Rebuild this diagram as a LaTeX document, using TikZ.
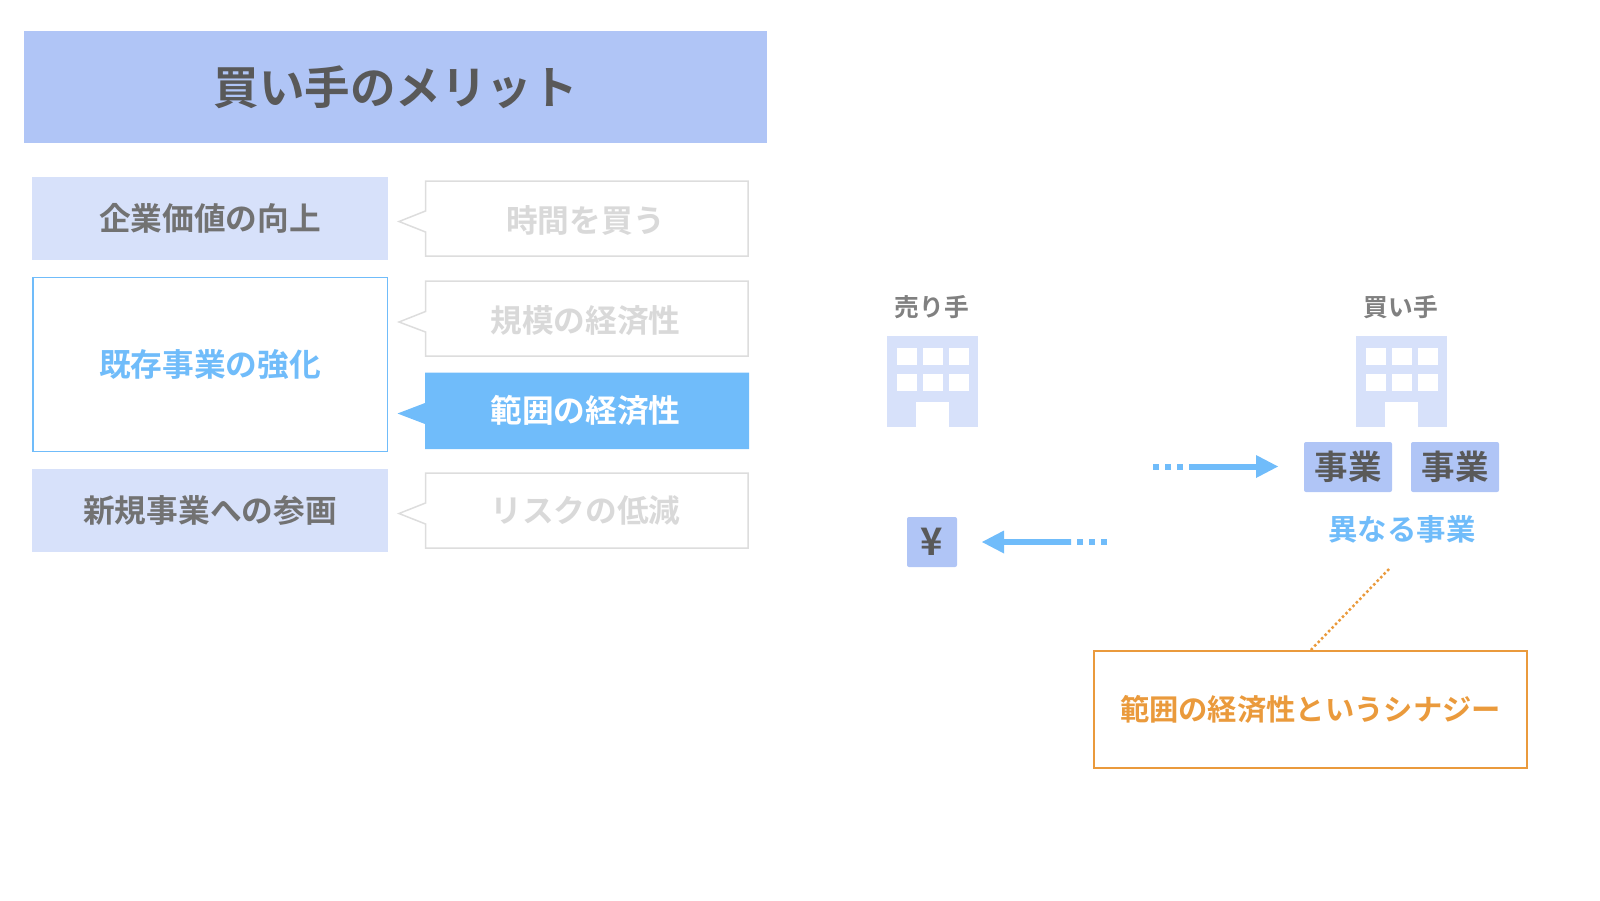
\documentclass[tikz,border=0pt]{standalone}
\usepackage{fontspec}
\setmainfont{Noto Sans CJK JP Bold}
\usetikzlibrary{arrows.meta}
\definecolor{titlefill}{HTML}{B0C5F6}
\definecolor{lightfill}{HTML}{D7E1FA}
\definecolor{skyblue}{HTML}{70BCFA}
\definecolor{darktext}{HTML}{595959}
\definecolor{midtext}{HTML}{808080}
\definecolor{paletext}{HTML}{D9D9D9}
\definecolor{paleline}{HTML}{DDDDDD}
\definecolor{orangeline}{HTML}{EA9A3C}
\tikzset{
  x=1pt,y=-1pt,
  txt/.style={inner sep=0pt,outer sep=0pt,text depth=0pt},
  titlebox/.style={draw=none,fill=titlefill,minimum width=743.5pt,minimum height=112pt,inner sep=0pt,text=darktext,font=\fontsize{45.5}{50}\selectfont},
  leftbox/.style={fill=lightfill,minimum width=355.5pt,inner sep=0pt,text=darktext!85!white,font=\fontsize{31.7}{36}\selectfont},
  activebox/.style={draw=skyblue,line width=1.5pt,fill=white,minimum width=354.5pt,inner sep=0pt,text=skyblue,font=\fontsize{31.7}{36}\selectfont},
  callout/.style={draw=paleline,line width=1.5pt,fill=white,line join=miter},
  calloutactive/.style={fill=skyblue},
  calltext/.style={txt,text=paletext,font=\fontsize{31.7}{36}\selectfont},
  calltextactive/.style={txt,text=white,font=\fontsize{31.7}{36}\selectfont},
  bizbox/.style={fill=titlefill,rounded corners=2pt,minimum height=50pt,inner sep=0pt,text=darktext,font=\fontsize{33.5}{38}\selectfont},
  building/.style={fill=lightfill},
  windowcell/.style={fill=white},
  flow/.style={draw=skyblue,line width=6pt},
  flowdots/.style={draw=skyblue,line width=6pt,dash pattern=on 6pt off 6pt},
  flowhead/.style={fill=skyblue},
  partylabel/.style={txt,text=midtext,font=\fontsize{24.7}{28}\selectfont}
}
\newcommand{\bldg}[2]{%
  \fill[building] (#1,#2) rectangle +(91,91);
  \foreach \wx in {9.6,35.6,61.6} \foreach \wy in {12,38.3}
    \fill[windowcell] (#1+\wx,#2+\wy) rectangle +(20,16.5);
  \fill[windowcell] (#1+29,#2+65.5) rectangle (#1+62,#2+91);
}
\begin{document}
\begin{tikzpicture}
\useasboundingbox (0,0) rectangle (1600,900);
\node[titlebox] (title) at (395.5,87) {買い手のメリット};
\node[leftbox,minimum height=83.5pt] (l1) at (210,218.25) {企業価値の向上};
\node[activebox,minimum height=174pt] (l2) at (210,364.5) {既存事業の強化};
\node[leftbox,minimum height=83.5pt] (l3) at (210,510.25) {新規事業への参画};
% callouts
\draw[callout] (425.5,181) -- (748,181) -- (748,256) -- (425.5,256) -- (425.5,232) -- (399,221.5) -- (425.5,211) -- cycle;
\node[calltext] (c1) at (585.5,219) {時間を買う};
\draw[callout] (425.5,281) -- (748,281) -- (748,356) -- (425.5,356) -- (425.5,332) -- (399,322) -- (425.5,311.5) -- cycle;
\node[calltext] (c2) at (585.5,319) {規模の経済性};
\fill[calloutactive] (425,372.5) -- (749,372.5) -- (749,449) -- (425,449) -- (425,424) -- (397.5,413.5) -- (425,403) -- cycle;
\node[calltextactive] (c3) at (585.5,409) {範囲の経済性};
\draw[callout] (425.5,473) -- (748,473) -- (748,548) -- (425.5,548) -- (425.5,524) -- (399,513.5) -- (425.5,503) -- cycle;
\node[calltext] (c4) at (585.5,509) {リスクの低減};
% right part
\node[partylabel] (seller) at (932,306) {売り手};
\node[partylabel] (buyer) at (1401,306) {買い手};
\bldg{887}{336}
\bldg{1356}{336}
\node[bizbox,minimum width=88pt] (b1) at (1348,467) {事業};
\node[bizbox,minimum width=88pt] (b2) at (1455,467) {事業};
\node[bizbox,minimum width=50pt,font=\fontsize{38}{42}\selectfont] (yen) at (932,542) {¥};
\node[txt,text=skyblue,font=\fontsize{29.4}{33}\selectfont] (diff) at (1402,527.5) {異なる事業};
\node[draw=orangeline,line width=1.3pt,minimum width=433pt,minimum height=117pt,inner sep=0pt,text=orangeline,font=\fontsize{29.3}{33}\selectfont] (syn) at (1310.5,709.5) {範囲の経済性というシナジー};
% arrows
\coordinate (ra) at (1153,466.5);
\coordinate (rb) at (1189,466.5);
\coordinate (rc) at (1256,466.5);
\coordinate (rt) at (1278,466.5);
\draw[flowdots] (ra) -- (rb);
\draw[flow] (rb) -- (rc);
\fill[flowhead] (rt) -- ([yshift=-11.5pt]rc) -- ([yshift=11.5pt]rc) -- cycle;
\coordinate (la) at (1107,542);
\coordinate (lb) at (1071,542);
\coordinate (lc) at (1004,542);
\coordinate (lt) at (982,542);
\draw[flowdots] (la) -- (lb);
\draw[flow] (lb) -- (lc);
\fill[flowhead] (lt) -- ([yshift=-11.5pt]lc) -- ([yshift=11.5pt]lc) -- cycle;
% dotted link
\coordinate (dtop) at (1389,569);
\draw[orangeline,line width=2.5pt,dash pattern=on 2.5pt off 2.5pt] (dtop) -- (syn.north);
\end{tikzpicture}
\end{document}
